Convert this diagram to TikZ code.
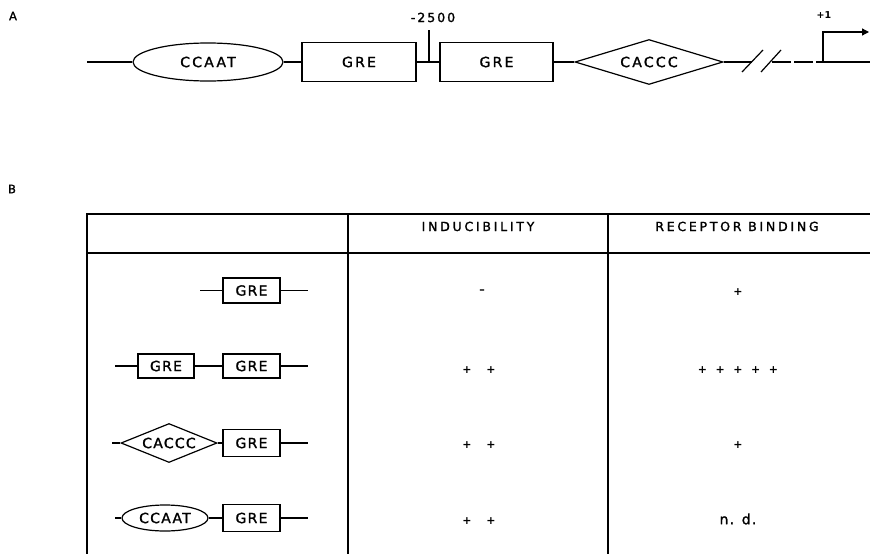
\documentclass[tikz,border=0pt]{standalone}
\usepackage{fontspec}
\setmainfont{DejaVu Sans}
\newfontfamily\letA[LetterSpace=16,FakeBold=1.5]{DejaVu Sans}
\newfontfamily\letT[LetterSpace=9,FakeBold=1.5]{DejaVu Sans}
\newfontfamily\letH[LetterSpace=22,FakeBold=1.5]{DejaVu Sans}
\newfontfamily\letP{DejaVu Sans Bold}
\usetikzlibrary{shapes.geometric,arrows.meta}
\tikzset{
  fA/.style={font={\letA\fontsize{14}{16}\selectfont}},
  fT/.style={font={\letT\fontsize{14}{16}\selectfont}},
  fH/.style={font={\letH\fontsize{12.5}{15}\selectfont}},
  fP/.style={font={\letP\fontsize{11}{13}\selectfont}},
  ln/.style={line width=1.2pt},
  grebox/.style={draw, rectangle, line width=1.2pt, inner sep=0pt},
  ellbox/.style={draw, ellipse, line width=1.2pt, inner sep=0pt},
  diabox/.style={draw, diamond, line width=1.2pt, inner sep=0pt},
  grid/.style={line width=1.3pt},
}
\begin{document}
\begin{tikzpicture}[x=1pt,y=-1pt]
\useasboundingbox (0,0) rectangle (870,554);

% ---------------- Part A ----------------
\node[font={\letA\fontsize{11.5}{14}\selectfont}] (labA) at (13,16) {A};
\node[font={\letA\fontsize{11.5}{14}\selectfont}] (labB) at (12,189) {B};

\node[ellbox, fA, minimum width=150pt, minimum height=38pt] (ccaat) at (208,62) {CCAAT};
\node[grebox, fA, minimum width=114pt, minimum height=39pt] (greA1) at (359,62) {GRE};
\node[grebox, fA, minimum width=113pt, minimum height=39pt] (greA2) at (496.5,62) {GRE};
\node[diabox, fA, aspect=3.3, minimum width=148pt, minimum height=45pt] (caccc) at (649,62) {CACCC};

\coordinate (startA) at (87,62);
\coordinate (tickB) at (429,62);
\coordinate (tickT) at (429,30);
\coordinate (brk1) at (752,62);
\coordinate (brk2) at (772,62);
\coordinate (tss) at (823,62);
\coordinate (tssT) at (823,32);
\coordinate (arrT) at (869,32);
\coordinate (endA) at (870,62);

\draw[ln] (startA) -- (ccaat.west);
\draw[ln] (ccaat.east) -- (greA1.west);
\draw[ln] (greA1.east) -- (greA2.west);
\draw[ln] (tickB) -- (tickT);
\draw[ln] (greA2.east) -- (caccc.west);
\draw[ln] (caccc.east) -- (brk1);
\draw[ln] (742,72) -- (763,50);
\draw[ln] (761,72) -- (781,50);
\draw[ln, dash pattern=on 19pt off 3pt] (brk2) -- (tss);
\draw[ln] (tss) -- (endA);
\draw[ln, -{Triangle[length=7pt,width=7pt]}] (tss) -- (tssT) -- (arrT);

\node[font={\letA\fontsize{12.5}{15}\selectfont}, anchor=base] (m2500) at (433,22) {-2500};
\node[font={\letP\fontsize{9.5}{12}\selectfont}, anchor=base] (plus1) at (824,19) {+1};

% ---------------- Part B table ----------------
\coordinate (tl) at (87,214);
\coordinate (tr) at (870,214);
\coordinate (hl) at (87,253);
\coordinate (hr) at (870,253);
\coordinate (bl) at (87,554);
\coordinate (c1t) at (348,214);
\coordinate (c1b) at (348,554);
\coordinate (c2t) at (608,214);
\coordinate (c2b) at (608,554);
\draw[grid] (tr) -- (tl) -- (bl);
\draw[grid] (hl) -- (hr);
\draw[grid] (c1t) -- (c1b);
\draw[grid] (c2t) -- (c2b);

\node[fH, anchor=base] (hInd) at (478,231) {INDUCIBILITY};
\node[fH, anchor=base] (hRec) at (737,231) {RECEPTOR BINDING};

% row 1
\node[grebox, fT, minimum width=57pt, minimum height=25pt] (r1g) at (251.5,290.5) {GRE};
\coordinate (r1a) at (200,290.5);
\coordinate (r1b) at (308,290.5);
\draw[ln] (r1a) -- (r1g.west);
\draw[ln] (r1g.east) -- (r1b);

% row 2
\node[grebox, fT, minimum width=56pt, minimum height=24pt] (r2g1) at (166,366) {GRE};
\node[grebox, fT, minimum width=57pt, minimum height=24pt] (r2g2) at (251.5,366) {GRE};
\coordinate (r2a) at (115,366);
\coordinate (r2b) at (308,366);
\draw[ln] (r2a) -- (r2g1.west);
\draw[ln] (r2g1.east) -- (r2g2.west);
\draw[ln] (r2g2.east) -- (r2b);

% row 3
\node[diabox, fT, aspect=2.5, minimum width=96pt, minimum height=39pt] (r3d) at (169,443) {CACCC};
\node[grebox, fT, minimum width=57pt, minimum height=27pt] (r3g) at (251.5,443) {GRE};
\coordinate (r3a) at (112,443);
\coordinate (r3b) at (308,443);
\draw[ln] (r3a) -- (r3d.west);
\draw[ln] (r3d.east) -- (r3g.west);
\draw[ln] (r3g.east) -- (r3b);

% row 4
\node[ellbox, fT, minimum width=86pt, minimum height=26pt] (r4e) at (165,518) {CCAAT};
\node[grebox, fT, minimum width=57pt, minimum height=27pt] (r4g) at (251.5,518) {GRE};
\coordinate (r4a) at (115,518);
\coordinate (r4b) at (308,518);
\draw[ln] (r4a) -- (r4e.west);
\draw[ln] (r4e.east) -- (r4g.west);
\draw[ln] (r4g.east) -- (r4b);

% values
\node[fP] (v1i) at (482,292) {–};
\node[fP] (v1r) at (738,292) {+};
\node[fP] (v2i) at (479,370) {+\hspace{15pt}+};
\node[fP] (v2r) at (738,370) {+\hspace{8.5pt}+\hspace{8.5pt}+\hspace{8.5pt}+\hspace{8.5pt}+};
\node[fP] (v3i) at (479,445) {+\hspace{15pt}+};
\node[fP] (v3r) at (738,445) {+};
\node[fP] (v4i) at (479,521) {+\hspace{15pt}+};
\node[font={\letT\fontsize{14}{16}\selectfont}] (v4r) at (738,519) {n. d.};
\end{tikzpicture}
\end{document}
